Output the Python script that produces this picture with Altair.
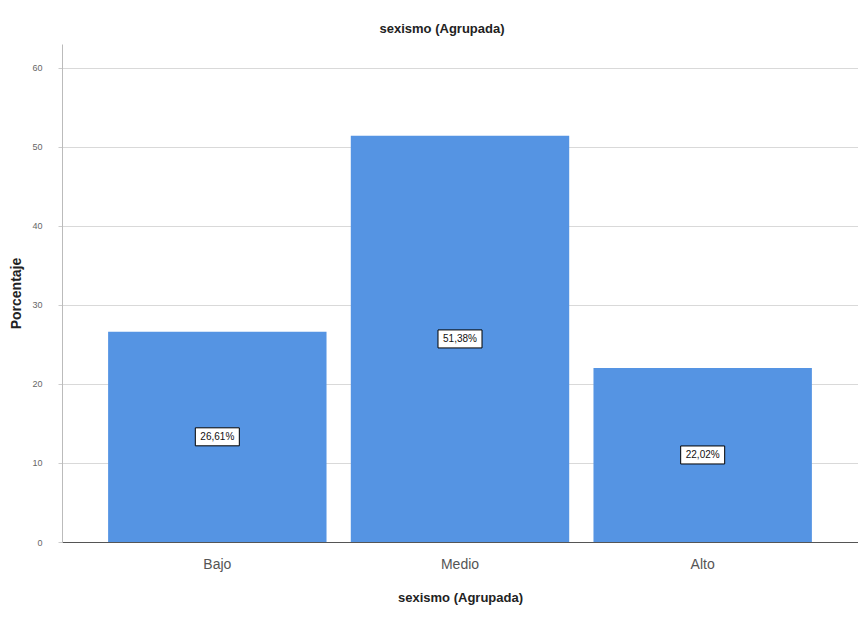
import altair as alt
import pandas as pd

categories = ["Bajo", "Medio", "Alto"]
values = [26.61, 51.38, 22.02]
labels = ["26,61%", "51,38%", "22,02%"]

df = pd.DataFrame({"cat": categories, "val": values, "lab": labels})
df["half"] = df["val"] / 2

FONT = "Liberation Sans"

x = alt.X("cat:N", sort=categories,
          scale=alt.Scale(paddingInner=0.1, paddingOuter=0.19),
          axis=alt.Axis(title="sexismo (Agrupada)", labelAngle=0, labelFontSize=14,
                        labelColor="#555", labelFont=FONT, labelPadding=15,
                        ticks=False, domainColor="#555", domainWidth=1,
                        titleFont=FONT, titleFontSize=13, titleFontWeight="bold",
                        titleColor="#222", titlePadding=20))

y_scale = alt.Scale(domain=[0, 63], nice=False)

bars = alt.Chart(df).mark_bar(color="#5594E3").encode(
    x=x,
    y=alt.Y("val:Q", scale=y_scale,
            axis=alt.Axis(title="Porcentaje", values=[0, 10, 20, 30, 40, 50, 60],
                          labelFontSize=9, labelColor="#666", labelFont=FONT,
                          tickSize=4, tickColor="#ccc", labelPadding=16,
                          domainColor="#bbb", grid=True, gridColor="#d9d9d9",
                          titleFont=FONT, titleFontSize=14, titleFontWeight="bold",
                          titleColor="#222", titlePadding=8)),
)

boxes = alt.Chart(df).mark_bar(width=44, color="white", stroke="black",
                               strokeWidth=1, yOffset=-9, y2Offset=9).encode(
    x=alt.X("cat:N", sort=categories),
    y=alt.Y("half:Q", scale=y_scale),
    y2="half:Q",
)

texts = alt.Chart(df).mark_text(fontSize=10, font=FONT, color="#111").encode(
    x=alt.X("cat:N", sort=categories),
    y=alt.Y("half:Q", scale=y_scale),
    text="lab:N",
)

chart = (bars + boxes + texts).properties(
    width=796, height=498,
    autosize=alt.AutoSizeParams(type="none"),
    padding={"left": 54, "top": 36, "right": 0, "bottom": 66},
    title=alt.TitleParams("sexismo (Agrupada)", font=FONT, fontSize=13,
                          fontWeight="bold", color="#222", offset=8, anchor="middle",
                          frame="group", dx=-18),
).configure_view(stroke=None)

chart.save("out.html", embed_options={"renderer": "svg", "actions": False})
